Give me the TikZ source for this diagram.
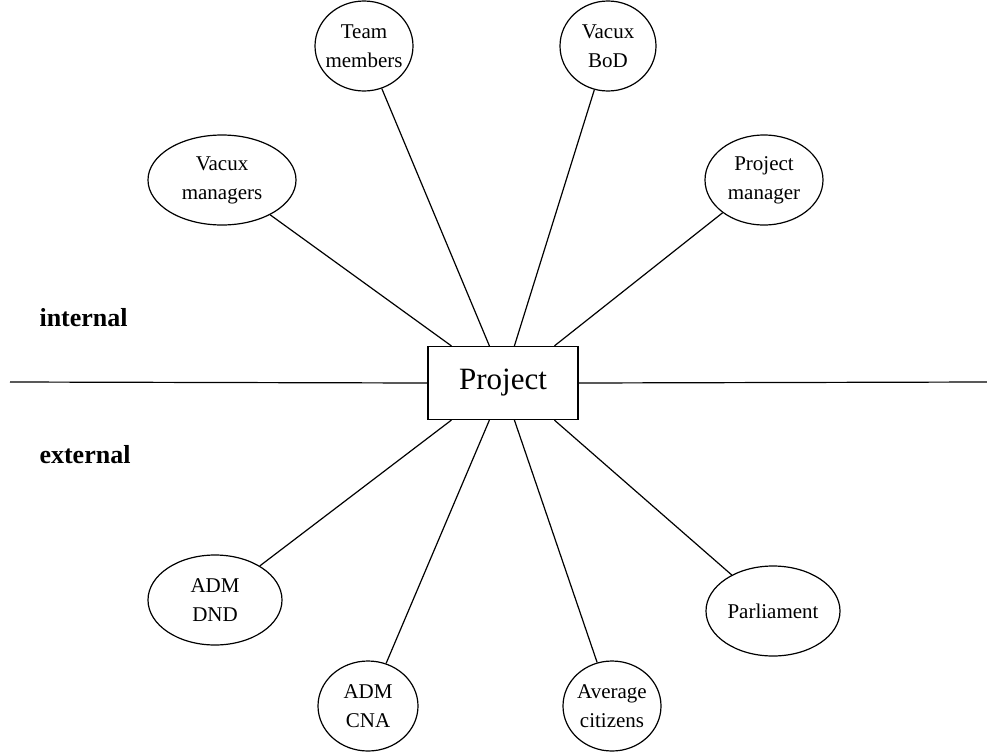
\documentclass[tikz,border=0pt]{standalone}
\usepackage{fontspec}
\setmainfont{Liberation Serif}
\usetikzlibrary{shapes.geometric,calc}
\begin{document}
\begin{tikzpicture}[x=1pt,y=-1pt,
  party/.style={ellipse,draw,line width=1.2pt,inner xsep=-10pt,inner ysep=-6pt,
    align=center,font=\fontsize{21}{29}\selectfont,
    minimum width=#1,minimum height=90},
  party/.default=100,
  link/.style={line width=1.2pt},
  side/.style={font=\fontsize{26}{30}\selectfont\bfseries,anchor=west}]
\useasboundingbox (0,0) rectangle (987,755);

% central project box
\node[draw,line width=1.2pt,minimum width=150,minimum height=73,
      font=\fontsize{31}{35}\selectfont] (proj) at (503,383) {Project};

% internal / external boundary
\coordinate (bl) at (10,382);
\coordinate (br) at (987,382);
\draw[link] (bl) -- (proj.west);
\draw[link] (proj.east) -- (br);
\node[side] (int) at (36,318) {internal};
\node[side] (ext) at (36,455) {external};

% attachment points on the box edges
\coordinate (t1) at ($(proj.north west)+(24,0)$);
\coordinate (t2) at ($(proj.north west)+(62,0)$);
\coordinate (t3) at ($(proj.north west)+(87,0)$);
\coordinate (t4) at ($(proj.north west)+(127,0)$);
\coordinate (b1) at ($(proj.south west)+(24,0)$);
\coordinate (b2) at ($(proj.south west)+(62,0)$);
\coordinate (b3) at ($(proj.south west)+(87,0)$);
\coordinate (b4) at ($(proj.south west)+(127,0)$);

% internal stakeholders
\node[party=148] (vm) at (222,180) {Vacux\\managers};
\node[party=98]  (tm) at (364,46)  {Team\\members};
\node[party=96]  (bod) at (608,46) {Vacux\\BoD};
\node[party=118] (pm) at (764,180) {Project\\manager};

% external stakeholders
\node[party=134] (dnd) at (215,600) {ADM\\DND};
\node[party=100] (cna) at (368,706) {ADM\\CNA};
\node[party=98]  (avg) at (612,706) {Average\\citizens};
\node[party=134] (parl) at (773,611) {Parliament};

\draw[link] (vm) -- (t1);
\draw[link] (tm) -- (t2);
\draw[link] (bod) -- (t3);
\draw[link] (pm) -- (t4);
\draw[link] (dnd) -- (b1);
\draw[link] (cna) -- (b2);
\draw[link] (avg) -- (b3);
\draw[link] (parl) -- (b4);
\end{tikzpicture}
\end{document}
